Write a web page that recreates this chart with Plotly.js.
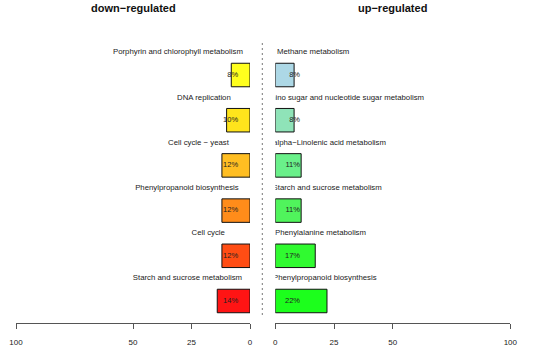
<!DOCTYPE html>
<html>
<head>
<meta charset="utf-8">
<script src="https://cdn.plot.ly/plotly-3.0.1.min.js"></script>
<style>html,body{margin:0;padding:0;background:#fff;}#chart{width:533px;height:355px;}</style>
</head>
<body>
<div id="chart"></div>
<script>
// ---- data ----
const downCategories = ["Porphyrin and chlorophyll metabolism", "DNA replication", "Cell cycle \u2212 yeast", "Phenylpropanoid biosynthesis", "Cell cycle", "Starch and sucrose metabolism"];
const downValues = [8, 10, 12, 12, 12, 14];
const downColors = ["#FFFF1E", "#FFE41C", "#FFBE22", "#FF8C1A", "#FF4D14", "#FF1414"];

const upCategories = ["Methane metabolism", "Amino sugar and nucleotide sugar metabolism", "alpha\u2212Linolenic acid metabolism", "Starch and sucrose metabolism", "Phenylalanine metabolism", "Phenylpropanoid biosynthesis"];
const upValues = [8, 8, 11, 11, 17, 22];
const upColors = ["#ADD8E6", "#8FE3B8", "#6AF08A", "#50F45C", "#30FA30", "#1CFF1C"];

const tickValues = [0, 25, 50, 100];
const tickLabels = ["0", "25", "50", "100"];

// ---- layout constants (label anchor positions, in axis units) ----
const downLabelEnds = [3.0, 8.2, 9.0, 4.8, 10.7, 3.4];
const upLabelEnds = [31.5, 63.3, 47.1, 45.3, 38.6, 43.1];
const downPctEnd = 5.1;
const upPctEnd = 10.5;

const rows = downCategories.map((c, i) => i);
const labelFont = {family: "Liberation Sans, Arial, sans-serif", size: 7.8, color: "#222"};
const pctFont = {family: "Liberation Sans, Arial, sans-serif", size: 7.5, color: "#222"};

const traces = [
  {type: "bar", orientation: "h", x: downValues, y: rows, xaxis: "x", yaxis: "y", width: 0.52,
   marker: {color: downColors, line: {color: "#111", width: 1}}, hoverinfo: "skip"},
  {type: "bar", orientation: "h", x: upValues, y: rows, xaxis: "x2", yaxis: "y", width: 0.52,
   marker: {color: upColors, line: {color: "#111", width: 1}}, hoverinfo: "skip"},
  {type: "scatter", mode: "text", x: downLabelEnds, y: rows.map(r => r - 0.5), text: downCategories,
   textposition: "middle left", textfont: labelFont, xaxis: "x", yaxis: "y", cliponaxis: true, hoverinfo: "skip"},
  {type: "scatter", mode: "text", x: upLabelEnds, y: rows.map(r => r - 0.5), text: upCategories,
   textposition: "middle left", textfont: labelFont, xaxis: "x2", yaxis: "y", cliponaxis: true, hoverinfo: "skip"},
  {type: "scatter", mode: "text", x: rows.map(() => downPctEnd), y: rows, text: downValues.map(v => v + "%"),
   textposition: "middle left", textfont: pctFont, xaxis: "x", yaxis: "y", cliponaxis: false, hoverinfo: "skip"},
  {type: "scatter", mode: "text", x: rows.map(() => upPctEnd), y: rows, text: upValues.map(v => v + "%"),
   textposition: "middle left", textfont: pctFont, xaxis: "x2", yaxis: "y", cliponaxis: false, hoverinfo: "skip"}
];

const axisCommon = {
  tickmode: "array", tickvals: tickValues, ticktext: tickLabels,
  showgrid: false, zeroline: false, showline: true, linecolor: "#555", linewidth: 1,
  ticks: "outside", ticklen: 5, tickcolor: "#555", tickwidth: 1,
  tickfont: {family: "Liberation Sans, Arial, sans-serif", size: 8, color: "#222"},
  ticklabelstandoff: 6, fixedrange: true
};

const layout = {
  width: 533, height: 355,
  margin: {l: 0, r: 0, t: 30, b: 32, pad: 0},
  paper_bgcolor: "#fff", plot_bgcolor: "#fff",
  showlegend: false, barmode: "overlay",
  xaxis: Object.assign({}, axisCommon, {domain: [16 / 533, 250 / 533], range: [100, 0], anchor: "y"}),
  xaxis2: Object.assign({}, axisCommon, {domain: [275.3 / 533, 510.3 / 533], range: [0, 100], anchor: "y"}),
  yaxis: {range: [5.487, -0.996], visible: false, fixedrange: true},
  shapes: [{type: "line", xref: "paper", yref: "paper", x0: 262.3 / 533, x1: 262.3 / 533, y0: 0.0273, y1: 0.959,
            line: {color: "#777", width: 1, dash: "2px,3px"}}],
  annotations: [
    {text: "down\u2212regulated", xref: "paper", yref: "paper", x: 133 / 533, y: 1.0751, xanchor: "center", yanchor: "middle",
     showarrow: false, font: {family: "Liberation Sans, Arial, sans-serif", size: 11, weight: "bold", color: "#111"}},
    {text: "up\u2212regulated", xref: "paper", yref: "paper", x: 392.8 / 533, y: 1.0751, xanchor: "center", yanchor: "middle",
     showarrow: false, font: {family: "Liberation Sans, Arial, sans-serif", size: 11, weight: "bold", color: "#111"}}
  ]
};

Plotly.newPlot("chart", traces, layout, {staticPlot: true, displayModeBar: false});
</script>
</body>
</html>
